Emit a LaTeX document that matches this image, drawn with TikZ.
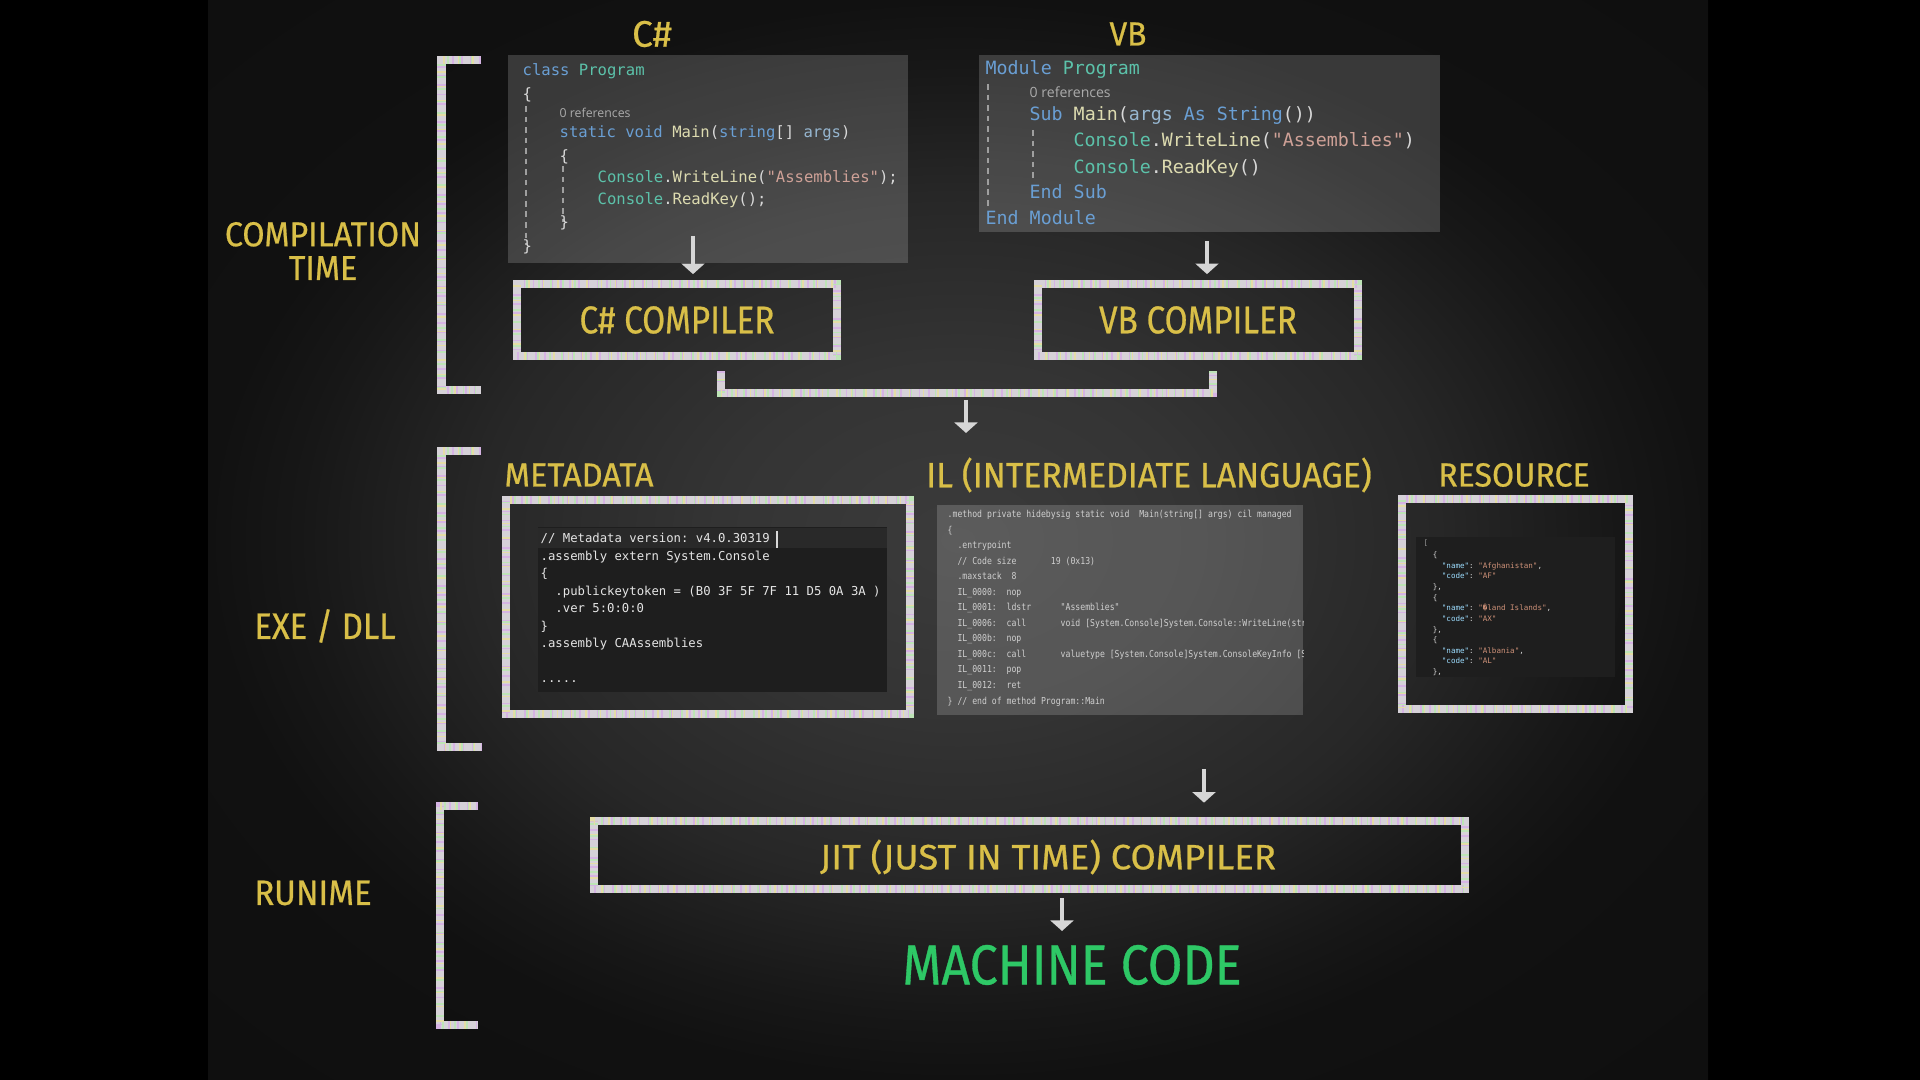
\documentclass[tikz,border=0pt]{standalone}
\usepackage{fontspec}
\usetikzlibrary{arrows.meta}
\newfontfamily\chalkfont[FakeBold=0.6]{Fira Sans}
\setmonofont[WordSpace={1,0,0}]{DejaVu Sans Mono}
\newfontfamily\uifont{Open Sans}
\frenchspacing
\definecolor{boardc}{HTML}{3B3B3B}
\definecolor{boardm}{HTML}{343434}
\definecolor{boardn}{HTML}{272727}
\definecolor{boardd}{HTML}{171717}
\definecolor{boarde}{HTML}{111111}
\definecolor{boardz}{HTML}{0C0C0C}
\definecolor{chalkY}{HTML}{D9BF48}
\definecolor{chalkG}{HTML}{2EC866}
\definecolor{chalkW}{HTML}{D6D2D8}
\definecolor{chalkP}{HTML}{D6B4E4}
\definecolor{chalkGr}{HTML}{BDE4B6}
\definecolor{chalkYl}{HTML}{E4DDA6}
\definecolor{arrowc}{HTML}{D6D6D6}
\definecolor{kw}{HTML}{6A9FD4}
\definecolor{ty}{HTML}{5CC2AA}
\definecolor{fn}{HTML}{DDDBB0}
\definecolor{stc}{HTML}{CFA197}
\definecolor{pa}{HTML}{96B6D0}
\definecolor{plain}{HTML}{D8D8D8}
\definecolor{refc}{HTML}{ABABAB}
\definecolor{darkp}{HTML}{1E1E1E}
\definecolor{jkey}{HTML}{9CDCFE}
\definecolor{jval}{HTML}{CE9178}
\definecolor{iltext}{HTML}{CFCFCF}
\pgfdeclareradialshading{boardshade}{\pgfpoint{0bp}{0bp}}{color(0bp)=(boardc); color(8bp)=(boardm); color(16bp)=(boardn); color(22bp)=(boardd); color(25bp)=(boarde); color(50bp)=(boardz)}
\newcommand{\ckw}[1]{\textcolor{kw}{#1}}
\newcommand{\cty}[1]{\textcolor{ty}{#1}}
\newcommand{\cfn}[1]{\textcolor{fn}{#1}}
\newcommand{\cst}[1]{\textcolor{stc}{#1}}
\newcommand{\cpa}[1]{\textcolor{pa}{#1}}
\newcommand{\jk}[1]{\textcolor{jkey}{#1}}
\newcommand{\jv}[1]{\textcolor{jval}{#1}}
\begin{document}
\begin{tikzpicture}[x=0.01cm,y=-0.01cm,
  chalk/.style={draw=chalkW, line width=2.4pt,
    postaction={draw=chalkP, line width=2.4pt, dash pattern=on 0.5pt off 2.1pt},
    postaction={draw=chalkGr, line width=2.4pt, dash pattern=on 0.5pt off 2.9pt, dash phase=1.1pt},
    postaction={draw=chalkYl, line width=2.4pt, dash pattern=on 0.4pt off 3.7pt, dash phase=2.0pt}},
  chalkbox/.style={chalk, rectangle, inner sep=0pt},
  lab/.style 2 args={text=chalkY, inner sep=0pt, font=\chalkfont\addfontfeature{FakeStretch=#2}\fontsize{#1}{#1}\selectfont},
  arr/.style={draw=arrowc, line width=1.1pt, -{Triangle[length=3pt,width=6.5pt]}},
  code/.style={anchor=base west, inner sep=0pt, text=plain},
  cscode/.style={code, font=\ttfamily\fontsize{4.43}{5}\selectfont},
  vbcode/.style={code, font=\ttfamily\fontsize{5.2}{6}\selectfont},
  refs/.style={code, text=refc, font=\uifont\fontsize{#1}{#1}\selectfont},
  metacode/.style={code, text=white!90!black, font=\ttfamily\fontsize{3.49}{4}\selectfont},
  ilcode/.style={code, text=iltext, font=\ttfamily\addfontfeature{FakeStretch=0.85}\fontsize{2.73}{3}\selectfont},
  jcode/.style={code, text=plain, font=\ttfamily\fontsize{2.15}{2.5}\selectfont},
  panelbox/.style={fill=white, fill opacity=0.17, draw=none, inner sep=0pt},
  darkbox/.style={fill=darkp, draw=none, inner sep=0pt},
  guide/.style={draw=gray!75, line width=0.35pt, dash pattern=on 1.6pt off 1.4pt}
]
% background
\fill[black] (0,0) rectangle (1920,1080);
\shade[shading=boardshade] (208,0) rectangle (1708,1080);
\useasboundingbox (0,0) rectangle (1920,1080);

% ---------- compilation time ----------
\draw[chalk] (481,60) -- (441.5,60) -- (441.5,390) -- (481,390);
\node[lab={9.8}{0.935}, align=center, font=\chalkfont\addfontfeature{FakeStretch=0.935}\fontsize{9.8}{9.6}\selectfont] (lblct) at (323,251) {COMPILATION\\TIME};

\node[lab={10.5}{1.0}] (lblcs) at (652,34) {C\#};
\node[lab={9.5}{0.95}] (lblvb) at (1128,34) {VB};

% C# panel
\node[panelbox, minimum width=4cm, minimum height=2.08cm] (cspanel) at (708,159) {};
\draw[guide] (526,106) -- (526,245);
\draw[guide] (563,166) -- (563,222);
\node[cscode] (cs1) at (522,76) {\ckw{class} \cty{Program}};
\node[cscode] (cs2) at (522,100) {\{};
\node[refs=3.5] (cs3) at (559,118) {0 references};
\node[cscode] (cs4) at (559,138) {\ckw{static} \ckw{void} \cfn{Main}(\ckw{string}[] \cpa{args})};
\node[cscode] (cs5) at (559,162) {\{};
\node[cscode] (cs6) at (597,183) {\cty{Console}.\cfn{WriteLine}(\cst{"Assemblies"});};
\node[cscode] (cs7) at (597,205) {\cty{Console}.\cfn{ReadKey}();};
\node[cscode] (cs8) at (559,228) {\}};
\node[cscode] (cs9) at (522,252) {\}};

% VB panel
\node[panelbox, minimum width=4.61cm, minimum height=1.77cm] (vbpanel) at (1209.5,143.5) {};
\draw[guide] (988,84) -- (988,206);
\draw[guide] (1033,130) -- (1033,182);
\node[vbcode] (vb1) at (985,75) {\ckw{Module} \cty{Program}};
\node[refs=4.0] (vb2) at (1029,98) {0 references};
\node[vbcode] (vb3) at (1029,121) {\ckw{Sub} \cfn{Main}(\cpa{args} \ckw{As} \ckw{String}())};
\node[vbcode] (vb4) at (1073,147) {\cty{Console}.\cfn{WriteLine}(\cst{"Assemblies"})};
\node[vbcode] (vb5) at (1073,174) {\cty{Console}.\cfn{ReadKey}()};
\node[vbcode] (vb6) at (1029,199) {\ckw{End} \ckw{Sub}};
\node[vbcode] (vb7) at (985,225) {\ckw{End} \ckw{Module}};

% compilers
\node[chalkbox, lab={11}{0.86}, minimum width=3.2cm, minimum height=0.72cm] (csc) at (677,320) {C\# COMPILER};
\node[chalkbox, lab={11}{0.86}, minimum width=3.2cm, minimum height=0.72cm] (vbc) at (1198,320) {VB COMPILER};
\coordinate (csa) at (693,236);
\coordinate (vba) at (1207,241);
\draw[arr, shorten >=1.6pt] (csa) -- (csa |- csc.north);
\draw[arr, shorten >=1.6pt] (vba) -- (vba |- vbc.north);

\coordinate (join) at (966,393);
\coordinate (joinend) at (966,433);
\draw[chalk] ([xshift=0.44cm,yshift=-0.11cm]csc.south) |- (join) -| ([xshift=0.15cm,yshift=-0.11cm]vbc.south);
\draw[arr] ([yshift=-0.07cm]join) -- (joinend);

% ---------- exe / dll ----------
\draw[chalk] (481,451) -- (441.5,451) -- (441.5,747) -- (481,747);
\node[lab={10.5}{0.89}] (lblexe) at (325,626) {EXE / DLL};

\node[lab={9.5}{0.98}] (lblmeta) at (579,475) {METADATA};
\node[lab={10}{0.96}] (lblil) at (1149,475) {IL (INTERMEDIATE LANGUAGE)};
\node[lab={9.5}{0.96}] (lblres) at (1514,475) {RESOURCE};

% metadata
\node[darkbox, minimum width=3.49cm, minimum height=1.65cm] (metain) at (712.5,609.5) {};
\fill[white, opacity=0.05] (538,528) rectangle (887,548);
\node[metacode] (md1) at (540,543) {// Metadata version: v4.0.30319};
\draw[white!85!black, line width=0.6pt] (777,531) -- (777,548);
\node[metacode] (md2) at (540,561) {.assembly extern System.Console};
\node[metacode] (md3) at (540,578) {\{};
\node[metacode] (md4) at (540,596) {~~.publickeytoken = (B0 3F 5F 7F 11 D5 0A 3A )};
\node[metacode] (md5) at (540,613) {~~.ver 5:0:0:0};
\node[metacode] (md6) at (540,631) {\}};
\node[metacode] (md7) at (540,648) {.assembly CAAssemblies};
\node[metacode] (md8) at (540,683) {.....};
\node[chalkbox, minimum width=4.04cm, minimum height=2.14cm] (metabox) at (708,607) {};

% IL
\node[panelbox, minimum width=3.66cm, minimum height=2.10cm] (ilpanel) at (1120,610) {};
\begin{scope}
\clip (937,505) rectangle (1303,715);
\foreach \t [count=\i] in {
  {.method private hidebysig static void~~Main(string[] args) cil managed},
  {\{},
  {~~.entrypoint},
  {~~//~Code~size~~~~~~~19~(0x13)},
  {~~.maxstack~~8},
  {~~IL\_0000:~~nop},
  {~~IL\_0001:~~ldstr~~~~~~"Assemblies"},
  {~~IL\_0006:~~call~~~~~~~void [System.Console]System.Console::WriteLine(str},
  {~~IL\_000b:~~nop},
  {~~IL\_000c:~~call~~~~~~~valuetype [System.Console]System.ConsoleKeyInfo [S},
  {~~IL\_0011:~~pop},
  {~~IL\_0012:~~ret},
  {\}~//~end~of~method~Program::Main}}
  {\node[ilcode] (il\i) at ({947},{517.5+15.55*(\i-1)}) {\t};}
\end{scope}

% resource
\node[darkbox, minimum width=1.99cm, minimum height=1.40cm] (resin) at (1515.5,607) {};
\node[jcode, text=gray!80] (js0) at (1423,546) {[};
\foreach \t [count=\i] in {
  {~~\{},
  {~~~~\jk{"name"}: \jv{"Afghanistan"},},
  {~~~~\jk{"code"}: \jv{"AF"}},
  {~~\},},
  {~~\{},
  {~~~~\jk{"name"}: \jv{"\symbol{"FFFD}land Islands"},},
  {~~~~\jk{"code"}: \jv{"AX"}},
  {~~\},},
  {~~\{},
  {~~~~\jk{"name"}: \jv{"Albania"},},
  {~~~~\jk{"code"}: \jv{"AL"}},
  {~~\},}}
  {\node[jcode] (js\i) at ({1423},{557.5+10.65*(\i-1)}) {\t};}
\node[chalkbox, minimum width=2.27cm, minimum height=2.10cm] (resbox) at (1515.5,604) {};

% ---------- runtime ----------
\draw[chalk] (478,806) -- (440,806) -- (440,1025) -- (478,1025);
\node[lab={10}{0.94}] (lblrun) at (313,893) {RUNIME};

\node[chalkbox, minimum width=8.71cm, minimum height=0.68cm] (jit) at (1029.5,855) {};
\node[lab={10}{1.04}] (jitlbl) at (1048,857) {JIT (JUST IN TIME) COMPILER};
\coordinate (ila) at (1204,769);
\draw[arr, shorten >=4pt] (ila) -- (ila |- jit.north);

\node[lab={16}{0.89}, text=chalkG] (mc) at (1072,965) {MACHINE CODE};
\coordinate (mca) at (1062,898);
\coordinate (mcb) at (1062,931);
\draw[arr] (mca) -- (mcb);
\end{tikzpicture}
\end{document}
